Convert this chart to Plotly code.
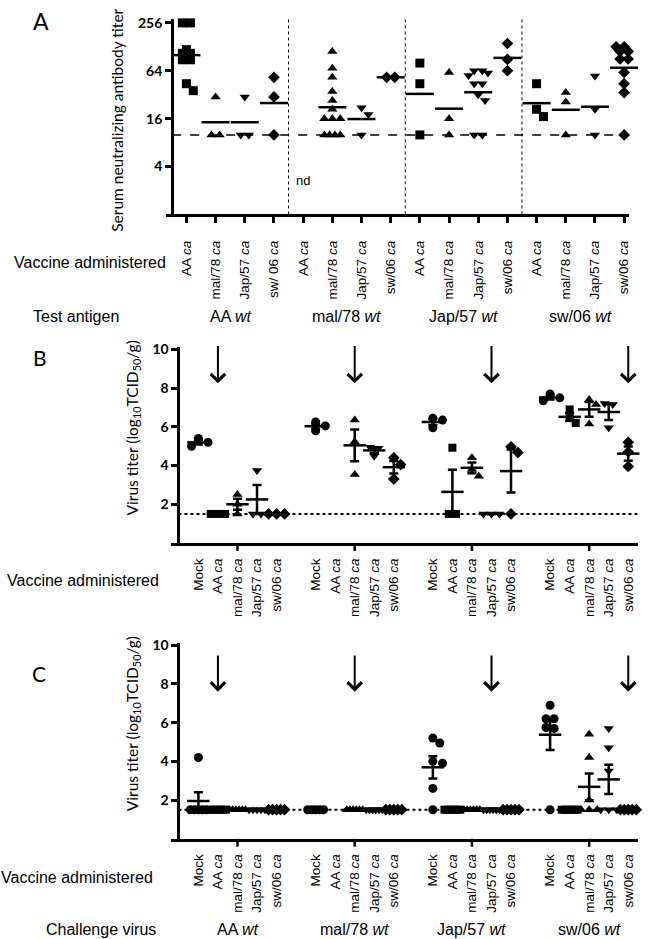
import numpy as np
import plotly.graph_objects as go

# %%
# Panel A: serum neutralizing antibody titer, one list of mice per vaccine group
a_vaccines = ["AA <i>ca</i>", "mal/78 <i>ca</i>", "Jap/57 <i>ca</i>", "sw/06 <i>ca</i>"]
a_vaccines_first = ["AA <i>ca</i>", "mal/78 <i>ca</i>", "Jap/57 <i>ca</i>", "sw/ 06 <i>ca</i>"]
test_antigens = ["AA <i>wt</i>", "mal/78 <i>wt</i>", "Jap/57 <i>wt</i>", "sw/06 <i>wt</i>"]

titer_aa_wt = [
    [256, 256, 118, 106, 106, 88, 88, 44, 36],
    [30, 10, 10],
    [30, 10, 10],
    [53, 30, 10],
]
titer_mal78_wt = [
    [],  # nd
    [112, 69, 53, 35, 27, 21, 16, 16, 16, 10, 10, 10, 10],
    [22, 18, 10],
    [53, 53],
]
titer_jap57_wt = [
    [80, 44, 10],
    [61, 16, 10],
    [64, 64, 60, 56, 44, 44, 32, 27, 10, 10],
    [141, 89, 64],
]
titer_sw06_wt = [
    [44, 21, 17],
    [34, 26, 10],
    [55, 21, 10],
    [128, 128, 128, 112, 112, 90, 90, 61, 44, 34, 10],
]
titer_lod = 10
titer_ticks = [4, 16, 64, 256]

# Panels B and C: virus titer (log10 TCID50/g), one list per vaccine group
bc_vaccines = ["Mock", "AA <i>ca</i>", "mal/78 <i>ca</i>", "Jap/57 <i>ca</i>", "sw/06 <i>ca</i>"]
challenge_viruses = ["AA <i>wt</i>", "mal/78 <i>wt</i>", "Jap/57 <i>wt</i>", "sw/06 <i>wt</i>"]

b_aa_wt = [[5.4, 5.2, 5.0], [1.5, 1.5, 1.5], [2.5, 2.0, 1.5], [3.75, 1.5, 1.5], [1.5, 1.5, 1.5]]
b_mal78_wt = [[6.25, 6.05, 5.8], [], [6.36, 5.23, 3.54], [4.95, 4.9, 4.5], [4.4, 4.05, 3.3]]
b_jap57_wt = [[6.45, 6.35, 5.95], [4.92, 1.5, 1.5], [4.4, 3.8, 3.45], [1.5, 1.5, 1.5], [4.97, 4.67, 1.5]]
b_sw06_wt = [[7.7, 7.5, 7.35], [6.9, 6.45, 6.2], [7.4, 7.15, 6.15], [7.2, 7.15, 5.95], [5.2, 4.7, 3.95]]

c_aa_wt = [
    [4.2, 1.5, 1.5, 1.5, 1.5, 1.5],
    [1.5, 1.5, 1.5, 1.5, 1.5, 1.5],
    [1.5, 1.5, 1.5, 1.5, 1.5, 1.5],
    [1.5, 1.5, 1.5, 1.5, 1.5],
    [1.5, 1.5, 1.5, 1.5, 1.5],
]
c_mal78_wt = [
    [1.5, 1.5, 1.5, 1.5, 1.5],
    [],
    [1.5, 1.5, 1.5, 1.5, 1.5, 1.5],
    [1.5, 1.5, 1.5, 1.5, 1.5, 1.5],
    [1.5, 1.5, 1.5, 1.5, 1.5],
]
c_jap57_wt = [
    [5.2, 4.95, 4.0, 3.9, 2.6, 1.5],
    [1.5, 1.5, 1.5, 1.5, 1.5, 1.5],
    [1.5, 1.5, 1.5, 1.5, 1.5, 1.5],
    [1.5, 1.5, 1.5, 1.5, 1.5, 1.5],
    [1.5, 1.5, 1.5, 1.5, 1.5],
]
c_sw06_wt = [
    [6.9, 6.2, 6.2, 5.75, 5.7, 1.5],
    [1.5, 1.5, 1.5, 1.5, 1.5, 1.5],
    [5.4, 4.2, 2.0, 1.5, 1.5, 1.5],
    [5.7, 4.7, 3.5, 1.5, 1.5, 1.5],
    [1.5, 1.5, 1.5, 1.5, 1.5],
]
virus_lod = 1.5
virus_ticks = [2, 4, 6, 8, 10]

# %%
W, H = 650, 939
ARIAL = "Liberation Sans, Arial, sans-serif"
CALIBRI = "Lato, Calibri, sans-serif"


def px(x):
    return x / W


def py(y):
    return 1 - y / H


# pixel geometry of the three panels
A_X0, A_X1, A_YAX, A_C0, A_DX = 167, 631, 172.7, 187, 29.27
A_Y0, A_Y1 = 209, 11.7
BC_X0, BC_X1, BC_YAX, BC_C0, BC_DX = 172, 640, 179, 199, 19.6
B_Y0, B_Y1 = 540, 343
C_Y0, C_Y1 = 838, 641

a_xrange = [(A_X0 - A_C0) / A_DX, (A_X1 - A_C0) / A_DX]
a_yrange = [0, np.log10(256) + (16 - A_Y1) / 24.1 * np.log10(2)]
a_px_log2 = (A_Y0 - A_Y1) / (a_yrange[1] / np.log10(2))
bc_xrange = [(BC_X0 - BC_C0) / BC_DX, (BC_X1 - BC_C0) / BC_DX]
bc_yrange = [0, 10 + 2 / 19.5]
bc_px_unit = (B_Y0 - B_Y1) / bc_yrange[1]


def swarm(pix, size, maxw=16.0):
    """horizontal pixel offsets: ties spread evenly, others dodge already placed points"""
    d = size * 0.9
    off = np.zeros(len(pix))
    order = list(np.argsort(-pix))
    rows = []
    for i in order:
        if rows and abs(pix[rows[-1][0]] - pix[i]) < 1:
            rows[-1].append(i)
        else:
            rows.append([i])
    placed = []
    for row in rows:
        n = len(row)
        if n > 1:
            step = min(d, maxw / (n - 1))
            for j, i in enumerate(row):
                off[i] = (j - (n - 1) / 2) * step
                placed.append(i)
            continue
        i = row[0]
        best, best_gap = 0.0, -1
        for c in [0, 0.85 * d, -0.85 * d, 1.2 * d, -1.2 * d]:
            gaps = [np.hypot(c - off[p], pix[i] - pix[p]) for p in placed]
            gap = min(gaps) if gaps else np.inf
            if gap >= d:
                best = c
                break
            if gap > best_gap:
                best, best_gap = c, gap
        off[i] = best
        placed.append(i)
    return off


fig = go.Figure()


def add_points(vals, xpos, symbol, size, xa, ya, to_pix, dx_px):
    vals = np.asarray(vals, float)
    if len(vals) == 0:
        return
    off = swarm(to_pix(vals), size) / dx_px
    fig.add_trace(
        go.Scatter(
            x=xpos + off,
            y=vals,
            mode="markers",
            marker=dict(symbol=symbol, size=size, color="black", line=dict(width=0)),
            xaxis=xa,
            yaxis=ya,
            showlegend=False,
            cliponaxis=False,
        )
    )


mean_marker = dict(symbol="line-ew-open", color="black", line=dict(width=2.5, color="black"))

# Panel A points + geometric mean
a_symbols = ["square", "triangle-up", "triangle-down", "diamond"]
a_groups = [titer_aa_wt, titer_mal78_wt, titer_jap57_wt, titer_sw06_wt]
for g, group in enumerate(a_groups):
    for k, vals in enumerate(group):
        xpos = 4 * g + k
        add_points(vals, xpos, a_symbols[k], 9, "x", "y",
                   lambda v: np.log2(v) * a_px_log2, A_DX)
        if len(vals):
            gm = 10 ** np.mean(np.log10(vals))
            fig.add_trace(
                go.Scatter(
                    x=[xpos], y=[gm], mode="markers", marker=dict(mean_marker, size=20),
                    xaxis="x", yaxis="y", showlegend=False, cliponaxis=False,
                )
            )

# Panels B and C points + mean +/- SEM
bc_symbols = ["circle", "square", "triangle-up", "triangle-down", "diamond"]
bc_sizes = [9, 8, 9, 9, 9]
bc_panels = [
    ("x2", "y2", [b_aa_wt, b_mal78_wt, b_jap57_wt, b_sw06_wt]),
    ("x3", "y3", [c_aa_wt, c_mal78_wt, c_jap57_wt, c_sw06_wt]),
]
for xa, ya, groups in bc_panels:
    for g, group in enumerate(groups):
        for k, vals in enumerate(group):
            xpos = 6 * g + k
            add_points(vals, xpos, bc_symbols[k], bc_sizes[k], xa, ya,
                       lambda v: v * bc_px_unit, BC_DX)
            if len(vals):
                m = np.mean(vals)
                sem = np.std(vals, ddof=1) / np.sqrt(len(vals)) if len(vals) > 1 else 0
                fig.add_trace(
                    go.Scatter(
                        x=[xpos], y=[m], mode="markers", marker=dict(mean_marker, size=16),
                        error_y=dict(type="data", array=[sem], color="black", thickness=2.5, width=4.5),
                        xaxis=xa, yaxis=ya, showlegend=False, cliponaxis=False,
                    )
                )

# %%
axis_common = dict(
    showline=True, linewidth=3, linecolor="black", showgrid=False, zeroline=False,
    ticks="outside", ticklen=6, tickwidth=2.5, tickcolor="black",
)
xlab_font = dict(family=ARIAL, size=13.5, color="black")
ytick_font = dict(family=CALIBRI, size=14, color="black", weight="bold")

a_ticktext = a_vaccines_first + a_vaccines * 3
bc_tickvals = [6 * g + k for g in range(4) for k in range(5)]

fig.update_layout(
    width=W, height=H,
    margin=dict(l=0, r=0, t=0, b=0),
    paper_bgcolor="white", plot_bgcolor="white",
    xaxis=dict(
        axis_common, domain=[px(A_X0), px(A_X1)], range=a_xrange, anchor="y",
        tickvals=list(range(16)), ticktext=a_ticktext, tickangle=-90,
        tickfont=xlab_font, ticklabelstandoff=12,
    ),
    yaxis=dict(
        axis_common, domain=[py(A_Y0), py(A_Y1)], type="log", range=a_yrange,
        anchor="free", position=px(A_YAX), tickvals=titer_ticks,
        ticktext=[str(t) for t in titer_ticks], tickfont=ytick_font,
    ),
    xaxis2=dict(
        axis_common, domain=[px(BC_X0), px(BC_X1)], range=bc_xrange, anchor="y2",
        tickvals=bc_tickvals, ticktext=bc_vaccines * 4, tickangle=-90, ticks="",
        tickfont=xlab_font, ticklabelstandoff=7,
    ),
    yaxis2=dict(
        axis_common, domain=[py(B_Y0), py(B_Y1)], range=bc_yrange, anchor="free",
        position=px(BC_YAX), tickvals=virus_ticks, tickfont=ytick_font,
    ),
    xaxis3=dict(
        axis_common, domain=[px(BC_X0), px(BC_X1)], range=bc_xrange, anchor="y3",
        tickvals=bc_tickvals, ticktext=bc_vaccines * 4, tickangle=-90, ticks="",
        tickfont=xlab_font, ticklabelstandoff=7,
    ),
    yaxis3=dict(
        axis_common, domain=[py(C_Y0), py(C_Y1)], range=bc_yrange, anchor="free",
        position=px(BC_YAX), tickvals=virus_ticks, tickfont=ytick_font,
    ),
)

# detection limits, group dividers and the single tick per group in B/C
fig.add_shape(type="line", xref="x", yref="y", x0=(A_YAX - A_C0) / A_DX, x1=a_xrange[1],
              y0=titer_lod, y1=titer_lod, line=dict(color="black", width=1.5, dash="dash"))
for d in [3.5, 7.5, 11.5]:
    fig.add_shape(type="line", xref="x", yref="paper", x0=d, x1=d, y0=py(A_Y0), y1=py(A_Y1),
                  line=dict(color="black", width=1, dash="dot"))
for xa, ya, y0 in [("x2", "y2", B_Y0), ("x3", "y3", C_Y0)]:
    fig.add_shape(type="line", xref=xa, yref=ya, x0=(BC_YAX - BC_C0) / BC_DX, x1=bc_xrange[1],
                  y0=virus_lod, y1=virus_lod, line=dict(color="black", width=2, dash="dot"))
    for g in range(4):
        fig.add_shape(type="line", xref=xa, yref="paper", x0=6 * g + 2, x1=6 * g + 2,
                      y0=py(y0), y1=py(y0 + 8), line=dict(color="black", width=2.5))
    # arrow over the homologous vaccine of each challenge virus
    head, tail = (8.25, 10.25) if xa == "x2" else (7.6, 9.55)
    for g in range(4):
        fig.add_annotation(x=6 * g + g + 1, y=head, ax=6 * g + g + 1, ay=tail,
                           xref=xa, yref=ya, axref=xa, ayref=ya, text="", showarrow=True,
                           arrowhead=4, arrowsize=1.4, arrowwidth=2, arrowcolor="black")

fig.add_annotation(x=4, y=np.log10(2.65), xref="x", yref="y", text="nd", showarrow=False,
                   font=dict(family=ARIAL, size=13, color="black"))

# panel letters and axis titles
txt = dict(showarrow=False, xref="paper", yref="paper", xanchor="center", yanchor="middle")
for letter, (lx, ly, ls) in zip("ABC", [(41, 14, 23), (40, 353, 21), (39, 672, 21)]):
    fig.add_annotation(txt, x=px(lx), y=py(ly), text=letter,
                       font=dict(family=CALIBRI, size=ls, color="black"))
fig.add_annotation(txt, x=px(118), y=py(114), text="Serum neutralizing antibody titer",
                   textangle=-90, font=dict(family=CALIBRI, size=15.5, color="black"))
for cy in [424, 722]:
    fig.add_annotation(txt, x=px(133), y=py(cy),
                       text="Virus titer (log<sub>10</sub>TCID<sub>50</sub>/g)",
                       textangle=-90, font=dict(family=CALIBRI, size=15.5, color="black"))

row_font = dict(family=ARIAL, size=16, color="black")
for cx, cy in [(90, 257), (83, 578), (77, 877)]:
    fig.add_annotation(txt, x=px(cx), y=py(cy), text="Vaccine administered", font=row_font)
fig.add_annotation(txt, x=px(76), y=py(312), text="Test antigen", font=row_font)
fig.add_annotation(txt, x=px(101), y=py(929), text="Challenge virus", font=row_font)
for g in range(4):
    fig.add_annotation(x=4 * g + 1.5, y=py(312), xref="x", yref="paper", text=test_antigens[g],
                       showarrow=False, yanchor="middle", font=row_font)
    fig.add_annotation(x=6 * g + 2, y=py(929), xref="x3", yref="paper", text=challenge_viruses[g],
                       showarrow=False, yanchor="middle", font=row_font)

fig.write_html("out.html", config={"displayModeBar": False},
               post_script="document.body.style.margin = '0';")
